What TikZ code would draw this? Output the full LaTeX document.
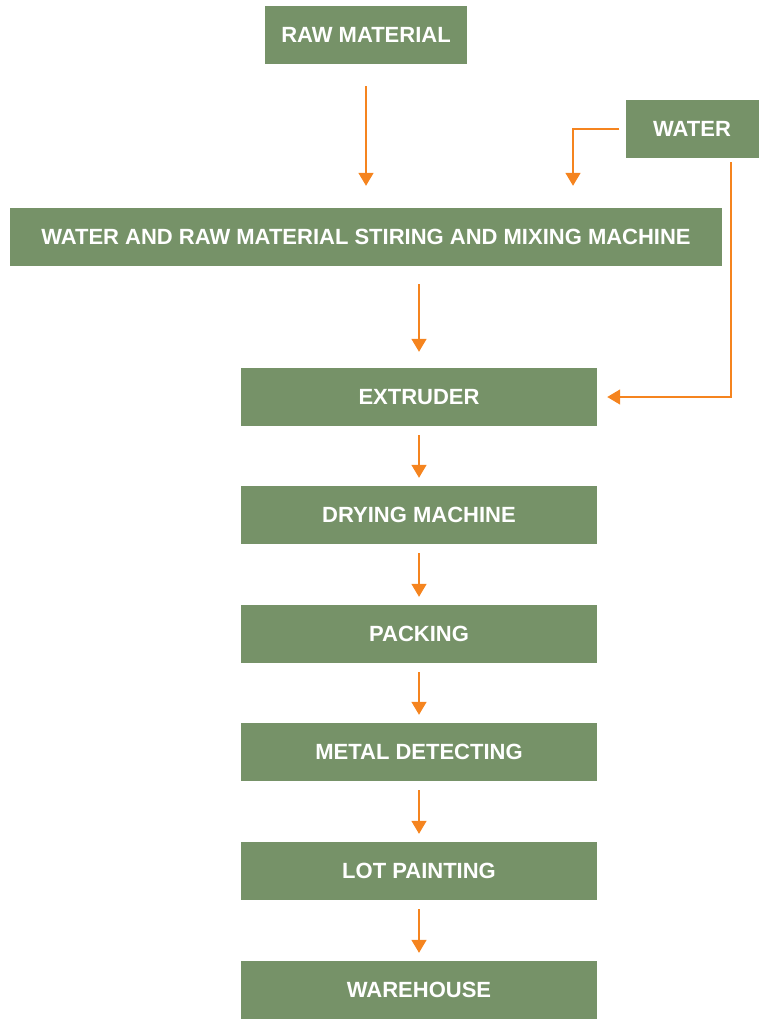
\documentclass[tikz,border=0pt]{standalone}
\usepackage{fontspec}
\setmainfont{Liberation Sans}
\usetikzlibrary{arrows.meta}
\usepackage{xcolor}
\definecolor{boxgreen}{RGB}{118,146,104}
\definecolor{arrorange}{RGB}{245,132,31}

\begin{document}
\begin{tikzpicture}[x=1pt,y=-1pt,
	stepbox/.style={fill=boxgreen, text=white, inner sep=0pt, minimum height=58pt,
		font=\fontsize{22}{26}\selectfont\bfseries},
	flow/.style={draw=arrorange, line width=1.6pt, -{Triangle[length=13pt,width=15pt]}}]
	\useasboundingbox (0,0) rectangle (768,1024);
	\node (raw) [stepbox, minimum width=202pt] at (366, 35) {RAW MATERIAL};
	\node (wat) [stepbox, minimum width=133pt] at (692, 129) {WATER};
	\node (mix) [stepbox, minimum width=712pt] at (366, 237) {WATER AND RAW MATERIAL STIRING AND MIXING MACHINE};
	\node (ext) [stepbox, minimum width=356pt] at (419, 397) {EXTRUDER};
	\node (dry) [stepbox, minimum width=356pt] at (419, 515) {DRYING MACHINE};
	\node (pac) [stepbox, minimum width=356pt] at (419, 634) {PACKING};
	\node (met) [stepbox, minimum width=356pt] at (419, 752) {METAL DETECTING};
	\node (lot) [stepbox, minimum width=356pt] at (419, 871) {LOT PAINTING};
	\node (war) [stepbox, minimum width=356pt] at (419, 990) {WAREHOUSE};
	\draw[flow, shorten <=22pt, shorten >=22pt] (raw) -- (mix);
	\draw[flow, shorten <=6pt, shorten >=22pt] (wat.west) -| ([xshift=207pt]mix.north);
	\draw[flow, shorten <=4pt, shorten >=10pt] ([xshift=39pt]wat.south) |- (ext.east);
	\draw[flow, shorten <=18pt, shorten >=16pt] ([xshift=53pt]mix.south) -- (ext);
	\draw[flow, shorten <=9pt, shorten >=8pt] (ext) -- (dry);
	\draw[flow, shorten <=9pt, shorten >=8pt] (dry) -- (pac);
	\draw[flow, shorten <=9pt, shorten >=8pt] (pac) -- (met);
	\draw[flow, shorten <=9pt, shorten >=8pt] (met) -- (lot);
	\draw[flow, shorten <=9pt, shorten >=8pt] (lot) -- (war);
\end{tikzpicture}
\end{document}
